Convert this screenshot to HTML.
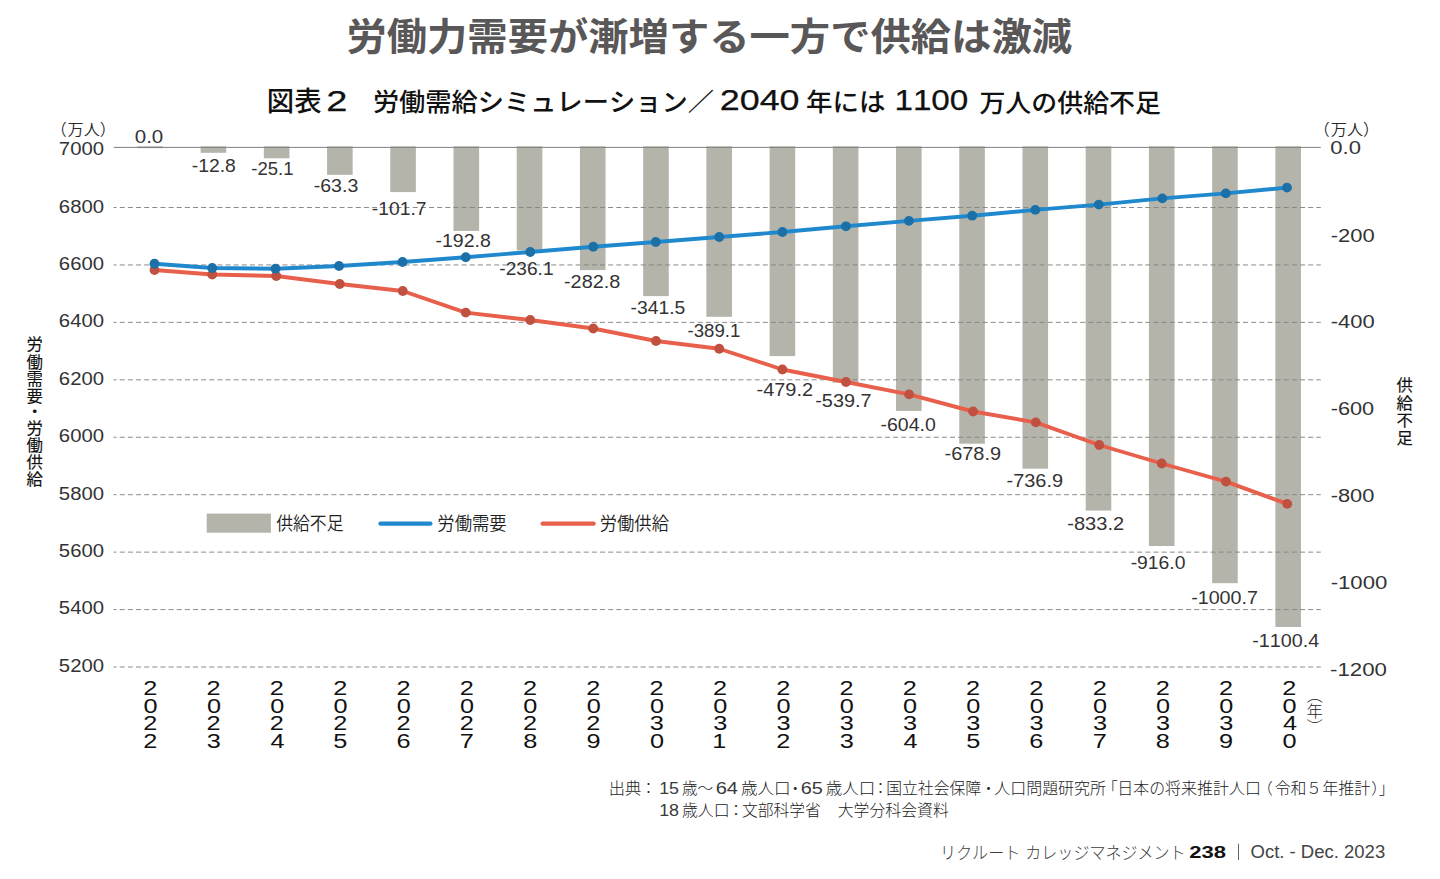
<!DOCTYPE html>
<html lang="ja"><head><meta charset="utf-8"><title>労働需給シミュレーション</title>
<style>html,body{margin:0;padding:0;background:#fff}body{width:1440px;height:879px;overflow:hidden;position:relative}svg{display:block;position:absolute;left:0;top:0}text{font-family:"Liberation Sans", "Noto Sans CJK JP", sans-serif;white-space:pre;font-kerning:none}</style></head><body>
<svg width="1440" height="879" viewBox="0 0 1440 879">
<rect width="1440" height="879" fill="#fff"/>
<g fill="#b5b4aa">
<rect x="137.40" y="146.30" width="25.60" height="1.90"/>
<rect x="200.62" y="146.30" width="25.60" height="6.50"/>
<rect x="263.84" y="146.30" width="25.60" height="12.00"/>
<rect x="327.06" y="146.30" width="25.60" height="28.50"/>
<rect x="390.28" y="146.30" width="25.60" height="45.80"/>
<rect x="453.50" y="146.30" width="25.60" height="84.60"/>
<rect x="516.72" y="146.30" width="25.60" height="104.00"/>
<rect x="579.94" y="146.30" width="25.60" height="123.80"/>
<rect x="643.16" y="146.30" width="25.60" height="149.80"/>
<rect x="706.38" y="146.30" width="25.60" height="170.50"/>
<rect x="769.60" y="146.30" width="25.60" height="209.80"/>
<rect x="832.82" y="146.30" width="25.60" height="236.40"/>
<rect x="896.04" y="146.30" width="25.60" height="264.60"/>
<rect x="959.26" y="146.30" width="25.60" height="297.40"/>
<rect x="1022.48" y="146.30" width="25.60" height="322.40"/>
<rect x="1085.70" y="146.30" width="25.60" height="364.30"/>
<rect x="1148.92" y="146.30" width="25.60" height="399.70"/>
<rect x="1212.14" y="146.30" width="25.60" height="436.90"/>
<rect x="1275.36" y="146.30" width="25.60" height="480.70"/>
</g>
<g stroke="#858585" stroke-width="0.95" fill="none">
<line x1="113.6" y1="147.4" x2="1320.8" y2="147.4" stroke="#808080" stroke-width="1"/>
<line x1="113.6" y1="207.50" x2="1320.8" y2="207.50" stroke-dasharray="5 3.14" stroke-dashoffset="2"/>
<line x1="113.6" y1="264.94" x2="1320.8" y2="264.94" stroke-dasharray="5 3.14" stroke-dashoffset="2"/>
<line x1="113.6" y1="322.38" x2="1320.8" y2="322.38" stroke-dasharray="5 3.14" stroke-dashoffset="2"/>
<line x1="113.6" y1="379.82" x2="1320.8" y2="379.82" stroke-dasharray="5 3.14" stroke-dashoffset="2"/>
<line x1="113.6" y1="437.26" x2="1320.8" y2="437.26" stroke-dasharray="5 3.14" stroke-dashoffset="2"/>
<line x1="113.6" y1="494.70" x2="1320.8" y2="494.70" stroke-dasharray="5 3.14" stroke-dashoffset="2"/>
<line x1="113.6" y1="552.14" x2="1320.8" y2="552.14" stroke-dasharray="5 3.14" stroke-dashoffset="2"/>
<line x1="113.6" y1="609.58" x2="1320.8" y2="609.58" stroke-dasharray="5 3.14" stroke-dashoffset="2"/>
<line x1="113.6" y1="667.02" x2="1320.8" y2="667.02" stroke-dasharray="5 3.14" stroke-dashoffset="2"/>
</g>
<rect x="206.7" y="513.6" width="64.2" height="19.1" fill="#b5b4aa"/>
<line x1="380.5" y1="523.7" x2="430.4" y2="523.7" stroke="#2089cd" stroke-width="4.3" stroke-linecap="round"/>
<line x1="542.7" y1="523.7" x2="593.6" y2="523.7" stroke="#e8604c" stroke-width="4.3" stroke-linecap="round"/>
<line x1="1238.5" y1="843.7" x2="1238.5" y2="860" stroke="#665" stroke-width="1"/>
<g id="texts">
<text id="t0" x="134.75" y="142.95" font-size="19.07" fill="#333333" font-weight="400" textLength="28.53" lengthAdjust="spacingAndGlyphs">0.0</text>
<text id="t1" x="191.75" y="171.70" font-size="19.07" fill="#333333" font-weight="400" textLength="44.03" lengthAdjust="spacingAndGlyphs">-12.8</text>
<text id="t2" x="251.25" y="175.45" font-size="19.07" fill="#333333" font-weight="400" textLength="42.28" lengthAdjust="spacingAndGlyphs">-25.1</text>
<text id="t3" x="313.75" y="191.95" font-size="19.07" fill="#333333" font-weight="400" textLength="44.53" lengthAdjust="spacingAndGlyphs">-63.3</text>
<text id="t4" x="371.75" y="214.95" font-size="19.07" fill="#333333" font-weight="400" textLength="54.80" lengthAdjust="spacingAndGlyphs">-101.7</text>
<text id="t5" x="435.50" y="247.45" font-size="19.07" fill="#333333" font-weight="400" textLength="55.30" lengthAdjust="spacingAndGlyphs">-192.8</text>
<text id="t6" x="499.25" y="275.45" font-size="19.07" fill="#333333" font-weight="400" textLength="54.30" lengthAdjust="spacingAndGlyphs">-236.1</text>
<text id="t7" x="564.00" y="287.95" font-size="19.07" fill="#333333" font-weight="400" textLength="56.30" lengthAdjust="spacingAndGlyphs">-282.8</text>
<text id="t8" x="630.50" y="313.70" font-size="19.07" fill="#333333" font-weight="400" textLength="54.80" lengthAdjust="spacingAndGlyphs">-341.5</text>
<text id="t9" x="687.50" y="336.95" font-size="19.07" fill="#333333" font-weight="400" textLength="52.80" lengthAdjust="spacingAndGlyphs">-389.1</text>
<text id="t10" x="756.50" y="395.70" font-size="19.07" fill="#333333" font-weight="400" textLength="56.55" lengthAdjust="spacingAndGlyphs">-479.2</text>
<text id="t11" x="815.25" y="407.45" font-size="19.07" fill="#333333" font-weight="400" textLength="56.30" lengthAdjust="spacingAndGlyphs">-539.7</text>
<text id="t12" x="880.50" y="431.20" font-size="19.07" fill="#333333" font-weight="400" textLength="55.30" lengthAdjust="spacingAndGlyphs">-604.0</text>
<text id="t13" x="944.50" y="460.45" font-size="19.07" fill="#333333" font-weight="400" textLength="56.55" lengthAdjust="spacingAndGlyphs">-678.9</text>
<text id="t14" x="1006.50" y="486.70" font-size="19.07" fill="#333333" font-weight="400" textLength="56.55" lengthAdjust="spacingAndGlyphs">-736.9</text>
<text id="t15" x="1067.30" y="529.65" font-size="19.07" fill="#333333" font-weight="400" textLength="56.80" lengthAdjust="spacingAndGlyphs">-833.2</text>
<text id="t16" x="1130.65" y="568.55" font-size="19.07" fill="#333333" font-weight="400" textLength="54.80" lengthAdjust="spacingAndGlyphs">-916.0</text>
<text id="t17" x="1191.15" y="603.95" font-size="19.07" fill="#333333" font-weight="400" textLength="66.79" lengthAdjust="spacingAndGlyphs">-1000.7</text>
<text id="t18" x="1252.25" y="647.45" font-size="19.07" fill="#333333" font-weight="400" textLength="67.06" lengthAdjust="spacingAndGlyphs">-1100.4</text>
<text id="t19" x="58.85" y="155.10" font-size="18.47" fill="#333333" font-weight="400" textLength="45.19" lengthAdjust="spacingAndGlyphs">7000</text>
<text id="t20" x="58.85" y="212.50" font-size="18.47" fill="#333333" font-weight="400" textLength="45.19" lengthAdjust="spacingAndGlyphs">6800</text>
<text id="t21" x="58.85" y="269.90" font-size="18.47" fill="#333333" font-weight="400" textLength="45.19" lengthAdjust="spacingAndGlyphs">6600</text>
<text id="t22" x="58.85" y="327.30" font-size="18.47" fill="#333333" font-weight="400" textLength="45.19" lengthAdjust="spacingAndGlyphs">6400</text>
<text id="t23" x="58.85" y="384.70" font-size="18.47" fill="#333333" font-weight="400" textLength="45.19" lengthAdjust="spacingAndGlyphs">6200</text>
<text id="t24" x="58.85" y="442.10" font-size="18.47" fill="#333333" font-weight="400" textLength="45.19" lengthAdjust="spacingAndGlyphs">6000</text>
<text id="t25" x="58.85" y="499.50" font-size="18.47" fill="#333333" font-weight="400" textLength="45.19" lengthAdjust="spacingAndGlyphs">5800</text>
<text id="t26" x="58.85" y="556.90" font-size="18.47" fill="#333333" font-weight="400" textLength="45.19" lengthAdjust="spacingAndGlyphs">5600</text>
<text id="t27" x="58.85" y="614.30" font-size="18.47" fill="#333333" font-weight="400" textLength="45.19" lengthAdjust="spacingAndGlyphs">5400</text>
<text id="t28" x="58.85" y="671.70" font-size="18.47" fill="#333333" font-weight="400" textLength="45.19" lengthAdjust="spacingAndGlyphs">5200</text>
<text id="t29" x="1330.30" y="153.50" font-size="18.75" fill="#333333" font-weight="400" textLength="30.64" lengthAdjust="spacingAndGlyphs">0.0</text>
<text id="t30" x="1330.65" y="241.55" font-size="18.75" fill="#333333" font-weight="400" textLength="44.01" lengthAdjust="spacingAndGlyphs">-200</text>
<text id="t31" x="1330.65" y="328.35" font-size="18.75" fill="#333333" font-weight="400" textLength="44.01" lengthAdjust="spacingAndGlyphs">-400</text>
<text id="t32" x="1330.65" y="415.15" font-size="18.75" fill="#333333" font-weight="400" textLength="43.51" lengthAdjust="spacingAndGlyphs">-600</text>
<text id="t33" x="1330.65" y="502.20" font-size="18.75" fill="#333333" font-weight="400" textLength="43.76" lengthAdjust="spacingAndGlyphs">-800</text>
<text id="t34" x="1330.65" y="589.00" font-size="18.75" fill="#333333" font-weight="400" textLength="56.68" lengthAdjust="spacingAndGlyphs">-1000</text>
<text id="t35" x="1330.05" y="676.05" font-size="18.75" fill="#333333" font-weight="400" textLength="56.93" lengthAdjust="spacingAndGlyphs">-1200</text>
<text id="t36" x="50.65" y="134.80" font-size="16.01" fill="#2a2a2a" font-weight="350">（</text>
<text id="t37" x="67.55" y="134.65" font-size="15.17" fill="#2a2a2a" font-weight="350" textLength="32.42" lengthAdjust="spacingAndGlyphs">万人</text>
<text id="t38" x="99.85" y="134.80" font-size="16.01" fill="#2a2a2a" font-weight="350">）</text>
<text id="t39" x="1313.85" y="134.80" font-size="16.01" fill="#2a2a2a" font-weight="350">（</text>
<text id="t40" x="1330.75" y="134.65" font-size="15.17" fill="#2a2a2a" font-weight="350" textLength="32.42" lengthAdjust="spacingAndGlyphs">万人</text>
<text id="t41" x="1363.05" y="134.80" font-size="16.01" fill="#2a2a2a" font-weight="350">）</text>
<text id="t42" x="346.40" y="49.80" font-size="38.02" fill="#595757" font-weight="700" textLength="725.65" lengthAdjust="spacingAndGlyphs">労働力需要が漸増する一方で供給は激減</text>
<text id="t43" x="266.75" y="111.25" font-size="27.18" fill="#111" font-weight="500" textLength="54.77" lengthAdjust="spacingAndGlyphs">図表</text>
<text id="t44" x="326.25" y="110.80" font-size="29.72" fill="#111" font-weight="400" style='stroke:#111;stroke-width:0.25' textLength="21.14" lengthAdjust="spacingAndGlyphs">2</text>
<text id="t45" x="372.90" y="111.25" font-size="25.00" fill="#111" font-weight="500" textLength="341.02" lengthAdjust="spacingAndGlyphs">労働需給シミュレーション／</text>
<text id="t46" x="719.75" y="110.30" font-size="29.01" fill="#111" font-weight="400" style='stroke:#111;stroke-width:0.25' textLength="79.77" lengthAdjust="spacingAndGlyphs">2040</text>
<text id="t47" x="806.05" y="111.30" font-size="25.00" fill="#111" font-weight="500" textLength="79.52" lengthAdjust="spacingAndGlyphs">年には</text>
<text id="t48" x="894.40" y="110.30" font-size="29.01" fill="#111" font-weight="400" style='stroke:#111;stroke-width:0.25' textLength="73.96" lengthAdjust="spacingAndGlyphs">1100</text>
<text id="t49" x="979.45" y="111.50" font-size="25.00" fill="#111" font-weight="500" textLength="181.52" lengthAdjust="spacingAndGlyphs">万人の供給不足</text>
<text id="t50" x="276.30" y="530.20" font-size="18.27" fill="#222" font-weight="350" textLength="67.13" lengthAdjust="spacingAndGlyphs">供給不足</text>
<text id="t51" x="437.30" y="530.20" font-size="18.27" fill="#222" font-weight="350" textLength="69.38" lengthAdjust="spacingAndGlyphs">労働需要</text>
<text id="t52" x="599.80" y="530.20" font-size="18.27" fill="#222" font-weight="350" textLength="69.13" lengthAdjust="spacingAndGlyphs">労働供給</text>
<text id="t53" x="143.30" y="694.70" font-size="19.30" fill="#111" font-weight="400" textLength="14.08" lengthAdjust="spacingAndGlyphs">2</text>
<text id="t54" x="143.55" y="712.55" font-size="19.30" fill="#111" font-weight="400" textLength="14.08" lengthAdjust="spacingAndGlyphs">0</text>
<text id="t55" x="143.30" y="730.40" font-size="19.30" fill="#111" font-weight="400" textLength="14.08" lengthAdjust="spacingAndGlyphs">2</text>
<text id="t56" x="143.30" y="748.25" font-size="19.30" fill="#111" font-weight="400" textLength="14.08" lengthAdjust="spacingAndGlyphs">2</text>
<text id="t57" x="206.54" y="694.70" font-size="19.30" fill="#111" font-weight="400" textLength="14.08" lengthAdjust="spacingAndGlyphs">2</text>
<text id="t58" x="207.04" y="712.55" font-size="19.30" fill="#111" font-weight="400" textLength="14.08" lengthAdjust="spacingAndGlyphs">0</text>
<text id="t59" x="206.54" y="730.40" font-size="19.30" fill="#111" font-weight="400" textLength="14.08" lengthAdjust="spacingAndGlyphs">2</text>
<text id="t60" x="206.79" y="748.25" font-size="19.30" fill="#111" font-weight="400" textLength="14.08" lengthAdjust="spacingAndGlyphs">3</text>
<text id="t61" x="269.78" y="694.70" font-size="19.30" fill="#111" font-weight="400" textLength="14.08" lengthAdjust="spacingAndGlyphs">2</text>
<text id="t62" x="270.28" y="712.55" font-size="19.30" fill="#111" font-weight="400" textLength="14.08" lengthAdjust="spacingAndGlyphs">0</text>
<text id="t63" x="269.78" y="730.40" font-size="19.30" fill="#111" font-weight="400" textLength="14.08" lengthAdjust="spacingAndGlyphs">2</text>
<text id="t64" x="270.53" y="748.25" font-size="19.30" fill="#111" font-weight="400" textLength="14.08" lengthAdjust="spacingAndGlyphs">4</text>
<text id="t65" x="333.27" y="694.70" font-size="19.30" fill="#111" font-weight="400" textLength="14.08" lengthAdjust="spacingAndGlyphs">2</text>
<text id="t66" x="333.52" y="712.55" font-size="19.30" fill="#111" font-weight="400" textLength="14.08" lengthAdjust="spacingAndGlyphs">0</text>
<text id="t67" x="333.27" y="730.40" font-size="19.30" fill="#111" font-weight="400" textLength="14.08" lengthAdjust="spacingAndGlyphs">2</text>
<text id="t68" x="333.27" y="748.25" font-size="19.30" fill="#111" font-weight="400" textLength="14.08" lengthAdjust="spacingAndGlyphs">5</text>
<text id="t69" x="396.51" y="694.70" font-size="19.30" fill="#111" font-weight="400" textLength="14.08" lengthAdjust="spacingAndGlyphs">2</text>
<text id="t70" x="396.76" y="712.55" font-size="19.30" fill="#111" font-weight="400" textLength="14.08" lengthAdjust="spacingAndGlyphs">0</text>
<text id="t71" x="396.51" y="730.40" font-size="19.30" fill="#111" font-weight="400" textLength="14.08" lengthAdjust="spacingAndGlyphs">2</text>
<text id="t72" x="396.51" y="748.25" font-size="19.30" fill="#111" font-weight="400" textLength="14.08" lengthAdjust="spacingAndGlyphs">6</text>
<text id="t73" x="459.75" y="694.70" font-size="19.30" fill="#111" font-weight="400" textLength="14.08" lengthAdjust="spacingAndGlyphs">2</text>
<text id="t74" x="460.00" y="712.55" font-size="19.30" fill="#111" font-weight="400" textLength="14.08" lengthAdjust="spacingAndGlyphs">0</text>
<text id="t75" x="459.75" y="730.40" font-size="19.30" fill="#111" font-weight="400" textLength="14.08" lengthAdjust="spacingAndGlyphs">2</text>
<text id="t76" x="459.75" y="748.25" font-size="19.30" fill="#111" font-weight="400" textLength="14.08" lengthAdjust="spacingAndGlyphs">7</text>
<text id="t77" x="522.99" y="694.70" font-size="19.30" fill="#111" font-weight="400" textLength="14.08" lengthAdjust="spacingAndGlyphs">2</text>
<text id="t78" x="523.24" y="712.55" font-size="19.30" fill="#111" font-weight="400" textLength="14.08" lengthAdjust="spacingAndGlyphs">0</text>
<text id="t79" x="522.99" y="730.40" font-size="19.30" fill="#111" font-weight="400" textLength="14.08" lengthAdjust="spacingAndGlyphs">2</text>
<text id="t80" x="523.24" y="748.25" font-size="19.30" fill="#111" font-weight="400" textLength="14.08" lengthAdjust="spacingAndGlyphs">8</text>
<text id="t81" x="586.23" y="694.70" font-size="19.30" fill="#111" font-weight="400" textLength="14.08" lengthAdjust="spacingAndGlyphs">2</text>
<text id="t82" x="586.73" y="712.55" font-size="19.30" fill="#111" font-weight="400" textLength="14.08" lengthAdjust="spacingAndGlyphs">0</text>
<text id="t83" x="586.23" y="730.40" font-size="19.30" fill="#111" font-weight="400" textLength="14.08" lengthAdjust="spacingAndGlyphs">2</text>
<text id="t84" x="586.48" y="748.25" font-size="19.30" fill="#111" font-weight="400" textLength="14.08" lengthAdjust="spacingAndGlyphs">9</text>
<text id="t85" x="649.47" y="694.70" font-size="19.30" fill="#111" font-weight="400" textLength="14.08" lengthAdjust="spacingAndGlyphs">2</text>
<text id="t86" x="649.97" y="712.55" font-size="19.30" fill="#111" font-weight="400" textLength="14.08" lengthAdjust="spacingAndGlyphs">0</text>
<text id="t87" x="649.72" y="730.40" font-size="19.30" fill="#111" font-weight="400" textLength="14.08" lengthAdjust="spacingAndGlyphs">3</text>
<text id="t88" x="649.97" y="748.25" font-size="19.30" fill="#111" font-weight="400" textLength="14.08" lengthAdjust="spacingAndGlyphs">0</text>
<text id="t89" x="712.96" y="694.70" font-size="19.30" fill="#111" font-weight="400" textLength="14.08" lengthAdjust="spacingAndGlyphs">2</text>
<text id="t90" x="713.21" y="712.55" font-size="19.30" fill="#111" font-weight="400" textLength="14.08" lengthAdjust="spacingAndGlyphs">0</text>
<text id="t91" x="713.21" y="730.40" font-size="19.30" fill="#111" font-weight="400" textLength="14.08" lengthAdjust="spacingAndGlyphs">3</text>
<text id="t92" x="712.21" y="748.25" font-size="19.30" fill="#111" font-weight="400" textLength="14.08" lengthAdjust="spacingAndGlyphs">1</text>
<text id="t93" x="776.20" y="694.70" font-size="19.30" fill="#111" font-weight="400" textLength="14.08" lengthAdjust="spacingAndGlyphs">2</text>
<text id="t94" x="776.45" y="712.55" font-size="19.30" fill="#111" font-weight="400" textLength="14.08" lengthAdjust="spacingAndGlyphs">0</text>
<text id="t95" x="776.45" y="730.40" font-size="19.30" fill="#111" font-weight="400" textLength="14.08" lengthAdjust="spacingAndGlyphs">3</text>
<text id="t96" x="776.20" y="748.25" font-size="19.30" fill="#111" font-weight="400" textLength="14.08" lengthAdjust="spacingAndGlyphs">2</text>
<text id="t97" x="839.44" y="694.70" font-size="19.30" fill="#111" font-weight="400" textLength="14.08" lengthAdjust="spacingAndGlyphs">2</text>
<text id="t98" x="839.69" y="712.55" font-size="19.30" fill="#111" font-weight="400" textLength="14.08" lengthAdjust="spacingAndGlyphs">0</text>
<text id="t99" x="839.69" y="730.40" font-size="19.30" fill="#111" font-weight="400" textLength="14.08" lengthAdjust="spacingAndGlyphs">3</text>
<text id="t100" x="839.69" y="748.25" font-size="19.30" fill="#111" font-weight="400" textLength="14.08" lengthAdjust="spacingAndGlyphs">3</text>
<text id="t101" x="902.68" y="694.70" font-size="19.30" fill="#111" font-weight="400" textLength="14.08" lengthAdjust="spacingAndGlyphs">2</text>
<text id="t102" x="902.93" y="712.55" font-size="19.30" fill="#111" font-weight="400" textLength="14.08" lengthAdjust="spacingAndGlyphs">0</text>
<text id="t103" x="902.93" y="730.40" font-size="19.30" fill="#111" font-weight="400" textLength="14.08" lengthAdjust="spacingAndGlyphs">3</text>
<text id="t104" x="903.43" y="748.25" font-size="19.30" fill="#111" font-weight="400" textLength="14.08" lengthAdjust="spacingAndGlyphs">4</text>
<text id="t105" x="965.92" y="694.70" font-size="19.30" fill="#111" font-weight="400" textLength="14.08" lengthAdjust="spacingAndGlyphs">2</text>
<text id="t106" x="966.17" y="712.55" font-size="19.30" fill="#111" font-weight="400" textLength="14.08" lengthAdjust="spacingAndGlyphs">0</text>
<text id="t107" x="966.17" y="730.40" font-size="19.30" fill="#111" font-weight="400" textLength="14.08" lengthAdjust="spacingAndGlyphs">3</text>
<text id="t108" x="966.17" y="748.25" font-size="19.30" fill="#111" font-weight="400" textLength="14.08" lengthAdjust="spacingAndGlyphs">5</text>
<text id="t109" x="1029.16" y="694.70" font-size="19.30" fill="#111" font-weight="400" textLength="14.08" lengthAdjust="spacingAndGlyphs">2</text>
<text id="t110" x="1029.66" y="712.55" font-size="19.30" fill="#111" font-weight="400" textLength="14.08" lengthAdjust="spacingAndGlyphs">0</text>
<text id="t111" x="1029.41" y="730.40" font-size="19.30" fill="#111" font-weight="400" textLength="14.08" lengthAdjust="spacingAndGlyphs">3</text>
<text id="t112" x="1029.16" y="748.25" font-size="19.30" fill="#111" font-weight="400" textLength="14.08" lengthAdjust="spacingAndGlyphs">6</text>
<text id="t113" x="1092.65" y="694.70" font-size="19.30" fill="#111" font-weight="400" textLength="14.08" lengthAdjust="spacingAndGlyphs">2</text>
<text id="t114" x="1092.90" y="712.55" font-size="19.30" fill="#111" font-weight="400" textLength="14.08" lengthAdjust="spacingAndGlyphs">0</text>
<text id="t115" x="1092.90" y="730.40" font-size="19.30" fill="#111" font-weight="400" textLength="14.08" lengthAdjust="spacingAndGlyphs">3</text>
<text id="t116" x="1092.65" y="748.25" font-size="19.30" fill="#111" font-weight="400" textLength="14.08" lengthAdjust="spacingAndGlyphs">7</text>
<text id="t117" x="1155.89" y="694.70" font-size="19.30" fill="#111" font-weight="400" textLength="14.08" lengthAdjust="spacingAndGlyphs">2</text>
<text id="t118" x="1156.14" y="712.55" font-size="19.30" fill="#111" font-weight="400" textLength="14.08" lengthAdjust="spacingAndGlyphs">0</text>
<text id="t119" x="1156.14" y="730.40" font-size="19.30" fill="#111" font-weight="400" textLength="14.08" lengthAdjust="spacingAndGlyphs">3</text>
<text id="t120" x="1155.89" y="748.25" font-size="19.30" fill="#111" font-weight="400" textLength="14.08" lengthAdjust="spacingAndGlyphs">8</text>
<text id="t121" x="1219.13" y="694.70" font-size="19.30" fill="#111" font-weight="400" textLength="14.08" lengthAdjust="spacingAndGlyphs">2</text>
<text id="t122" x="1219.38" y="712.55" font-size="19.30" fill="#111" font-weight="400" textLength="14.08" lengthAdjust="spacingAndGlyphs">0</text>
<text id="t123" x="1219.38" y="730.40" font-size="19.30" fill="#111" font-weight="400" textLength="14.08" lengthAdjust="spacingAndGlyphs">3</text>
<text id="t124" x="1219.13" y="748.25" font-size="19.30" fill="#111" font-weight="400" textLength="14.08" lengthAdjust="spacingAndGlyphs">9</text>
<text id="t125" x="1282.37" y="694.70" font-size="19.30" fill="#111" font-weight="400" textLength="14.08" lengthAdjust="spacingAndGlyphs">2</text>
<text id="t126" x="1282.62" y="712.55" font-size="19.30" fill="#111" font-weight="400" textLength="14.08" lengthAdjust="spacingAndGlyphs">0</text>
<text id="t127" x="1283.12" y="730.40" font-size="19.30" fill="#111" font-weight="400" textLength="14.08" lengthAdjust="spacingAndGlyphs">4</text>
<text id="t128" x="1282.62" y="748.25" font-size="19.30" fill="#111" font-weight="400" textLength="14.08" lengthAdjust="spacingAndGlyphs">0</text>
<text id="t129" x="608.80" y="794.10" font-size="15.50" fill="#222" font-weight="300" textLength="32.52" lengthAdjust="spacingAndGlyphs">出典</text>
<text id="t130" x="640.65" y="794.10" font-size="15.50" fill="#222" font-weight="300">：</text>
<text id="t131" x="659.15" y="794.10" font-size="15.60" fill="#3a3a3a" font-weight="300" textLength="19.86" lengthAdjust="spacingAndGlyphs">15</text>
<text id="t132" x="681.95" y="794.10" font-size="15.50" fill="#222" font-weight="300" textLength="31.27" lengthAdjust="spacingAndGlyphs">歳～</text>
<text id="t133" x="715.70" y="794.10" font-size="15.60" fill="#3a3a3a" font-weight="300" textLength="22.36" lengthAdjust="spacingAndGlyphs">64</text>
<text id="t134" x="740.95" y="794.10" font-size="15.50" fill="#222" font-weight="300" textLength="49.77" lengthAdjust="spacingAndGlyphs">歳人口</text>
<text id="t135" x="787.55" y="794.10" font-size="15.50" fill="#222" font-weight="300">・</text>
<text id="t136" x="800.70" y="794.10" font-size="15.60" fill="#3a3a3a" font-weight="300" textLength="22.11" lengthAdjust="spacingAndGlyphs">65</text>
<text id="t137" x="825.75" y="794.10" font-size="15.50" fill="#222" font-weight="300" textLength="49.52" lengthAdjust="spacingAndGlyphs">歳人口</text>
<text id="t138" x="872.85" y="794.10" font-size="15.50" fill="#222" font-weight="300">：</text>
<text id="t139" x="886.20" y="794.10" font-size="15.50" fill="#222" font-weight="300" textLength="95.02" lengthAdjust="spacingAndGlyphs">国立社会保障</text>
<text id="t140" x="980.85" y="794.10" font-size="15.50" fill="#222" font-weight="300">・</text>
<text id="t141" x="994.25" y="794.10" font-size="15.50" fill="#222" font-weight="300" textLength="111.77" lengthAdjust="spacingAndGlyphs">人口問題研究所</text>
<text id="t142" x="1102.25" y="794.10" font-size="15.50" fill="#222" font-weight="300">「</text>
<text id="t143" x="1117.20" y="794.10" font-size="15.50" fill="#222" font-weight="300" textLength="143.77" lengthAdjust="spacingAndGlyphs">日本の将来推計人口</text>
<text id="t144" x="1257.30" y="794.10" font-size="15.50" fill="#222" font-weight="300">（</text>
<text id="t145" x="1274.65" y="794.10" font-size="15.50" fill="#222" font-weight="300" textLength="31.77" lengthAdjust="spacingAndGlyphs">令和</text>
<text id="t146" x="1306.30" y="794.10" font-size="15.50" fill="#222" font-weight="300">５</text>
<text id="t147" x="1322.15" y="794.10" font-size="15.50" fill="#222" font-weight="300" textLength="48.27" lengthAdjust="spacingAndGlyphs">年推計</text>
<text id="t148" x="1371.15" y="794.10" font-size="15.50" fill="#222" font-weight="300">）</text>
<text id="t149" x="1378.70" y="794.10" font-size="15.50" fill="#222" font-weight="300">」</text>
<text id="t150" x="659.15" y="816.40" font-size="15.60" fill="#3a3a3a" font-weight="300" textLength="19.86" lengthAdjust="spacingAndGlyphs">18</text>
<text id="t151" x="681.95" y="816.40" font-size="15.50" fill="#222" font-weight="300" textLength="47.77" lengthAdjust="spacingAndGlyphs">歳人口</text>
<text id="t152" x="728.15" y="816.40" font-size="15.50" fill="#222" font-weight="300">：</text>
<text id="t153" x="741.95" y="816.40" font-size="15.50" fill="#222" font-weight="300" textLength="78.77" lengthAdjust="spacingAndGlyphs">文部科学省</text>
<text id="t154" x="837.75" y="816.40" font-size="15.50" fill="#222" font-weight="300" textLength="111.02" lengthAdjust="spacingAndGlyphs">大学分科会資料</text>
<text id="t155" x="939.95" y="858.60" font-size="17.30" fill="#3c3c3c" font-weight="300" textLength="80.42" lengthAdjust="spacingAndGlyphs">リクルート</text>
<text id="t156" x="1025.30" y="858.60" font-size="17.30" fill="#3c3c3c" font-weight="300" textLength="160.33" lengthAdjust="spacingAndGlyphs">カレッジマネジメント</text>
<text id="t157" x="1189.35" y="857.75" font-size="17.37" fill="#111" font-weight="700" textLength="36.77" lengthAdjust="spacingAndGlyphs">238</text>
<text id="t158" x="1250.50" y="857.95" font-size="18.90" fill="#444" font-weight="400" textLength="134.67" lengthAdjust="spacingAndGlyphs">Oct. - Dec. 2023</text>
</g>
<g id="vtexts">
<text x="33.7" y="336.0" font-size="16.4" font-weight="400" fill="#111" stroke="#111" stroke-width="0.15" style="writing-mode:vertical-rl" letter-spacing="0.7">労働需要</text>
<text x="33.7" y="402.8" font-size="16.4" font-weight="400" fill="#111" stroke="#111" stroke-width="0.15" style="writing-mode:vertical-rl">・</text>
<text x="33.7" y="419.6" font-size="16.4" font-weight="400" fill="#111" stroke="#111" stroke-width="0.15" style="writing-mode:vertical-rl" letter-spacing="0.45">労働供給</text>
<text x="1403.7" y="376.7" font-size="16.4" font-weight="400" fill="#111" stroke="#111" stroke-width="0.15" style="writing-mode:vertical-rl" letter-spacing="1.2">供給不足</text>
<text x="1313.2" y="695.4" font-size="16" font-weight="300" fill="#222" style="writing-mode:vertical-rl;font-feature-settings:'vhal'">（年）</text>
</g>
<polyline points="154.50,270.00 212.25,274.50 276.25,276.00 339.75,284.00 402.75,291.00 465.75,312.60 530.25,320.00 593.25,328.50 656.00,341.00 719.25,348.75 782.40,369.50 846.00,382.00 909.10,394.40 973.10,411.50 1035.80,422.40 1099.20,445.00 1161.70,463.50 1226.00,481.60 1287.20,503.90" fill="none" stroke="#e8604c" stroke-width="3.9" stroke-linejoin="round" stroke-linecap="round"/><g fill="#c0503f"><circle cx="154.50" cy="270.00" r="4.9"/><circle cx="212.25" cy="274.50" r="4.9"/><circle cx="276.25" cy="276.00" r="4.9"/><circle cx="339.75" cy="284.00" r="4.9"/><circle cx="402.75" cy="291.00" r="4.9"/><circle cx="465.75" cy="312.60" r="4.9"/><circle cx="530.25" cy="320.00" r="4.9"/><circle cx="593.25" cy="328.50" r="4.9"/><circle cx="656.00" cy="341.00" r="4.9"/><circle cx="719.25" cy="348.75" r="4.9"/><circle cx="782.40" cy="369.50" r="4.9"/><circle cx="846.00" cy="382.00" r="4.9"/><circle cx="909.10" cy="394.40" r="4.9"/><circle cx="973.10" cy="411.50" r="4.9"/><circle cx="1035.80" cy="422.40" r="4.9"/><circle cx="1099.20" cy="445.00" r="4.9"/><circle cx="1161.70" cy="463.50" r="4.9"/><circle cx="1226.00" cy="481.60" r="4.9"/><circle cx="1287.20" cy="503.90" r="4.9"/></g>
<polyline points="154.50,263.75 212.25,268.00 275.50,268.75 339.00,266.00 402.50,262.00 465.75,257.25 530.25,252.00 593.25,246.75 655.75,242.00 719.25,237.00 782.40,232.00 846.00,226.30 908.90,220.90 972.20,215.70 1035.30,209.90 1098.80,204.60 1162.30,198.40 1225.80,193.40 1287.00,187.60" fill="none" stroke="#2089cd" stroke-width="3.9" stroke-linejoin="round" stroke-linecap="round"/><g fill="#1b70a8"><circle cx="154.50" cy="263.75" r="4.9"/><circle cx="212.25" cy="268.00" r="4.9"/><circle cx="275.50" cy="268.75" r="4.9"/><circle cx="339.00" cy="266.00" r="4.9"/><circle cx="402.50" cy="262.00" r="4.9"/><circle cx="465.75" cy="257.25" r="4.9"/><circle cx="530.25" cy="252.00" r="4.9"/><circle cx="593.25" cy="246.75" r="4.9"/><circle cx="655.75" cy="242.00" r="4.9"/><circle cx="719.25" cy="237.00" r="4.9"/><circle cx="782.40" cy="232.00" r="4.9"/><circle cx="846.00" cy="226.30" r="4.9"/><circle cx="908.90" cy="220.90" r="4.9"/><circle cx="972.20" cy="215.70" r="4.9"/><circle cx="1035.30" cy="209.90" r="4.9"/><circle cx="1098.80" cy="204.60" r="4.9"/><circle cx="1162.30" cy="198.40" r="4.9"/><circle cx="1225.80" cy="193.40" r="4.9"/><circle cx="1287.00" cy="187.60" r="4.9"/></g>
</svg>
<!--EXTRA-->
</body></html>
